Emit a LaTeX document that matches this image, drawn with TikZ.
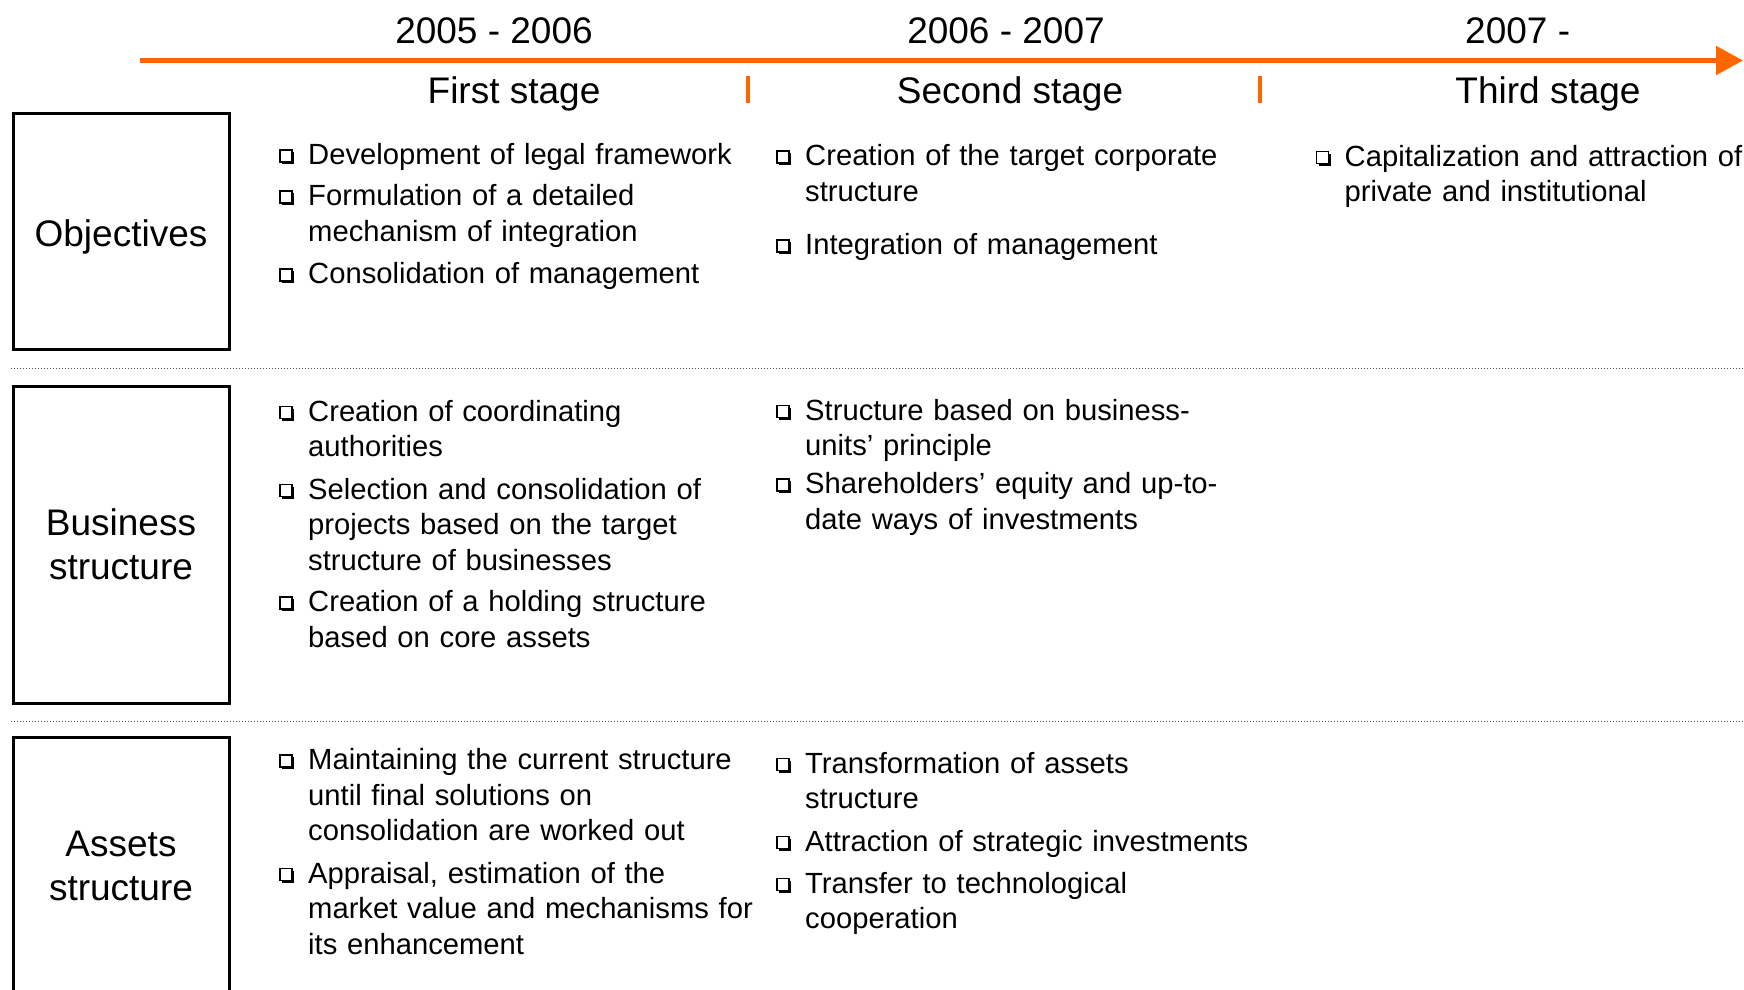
\documentclass[tikz,border=0pt]{standalone}
\usepackage{fontspec}
\setmainfont{Liberation Sans}
\usetikzlibrary{arrows.meta}
\usetikzlibrary{shadows}

\definecolor{stageorange}{HTML}{FF6600}

\newcommand{\headfont}{\fontsize{37}{44.5}\selectfont}
\newcommand{\itemfont}{\fontsize{29.2}{35.6}\selectfont}

\tikzset{
  catbox/.style={draw, line width=3pt, minimum width=216pt, align=center,
                 font=\headfont, inner sep=0pt},
  head/.style={anchor=base, font=\headfont, inner sep=0pt},
  item/.style={anchor=base west, text width=450pt, align=left,
               font=\itemfont, inner sep=0pt},
  bul/.style={draw, fill=white, line width=1.2pt, minimum size=12pt, inner sep=0pt,
              drop shadow={shadow xshift=2.2pt, shadow yshift=-2.2pt,
                           opacity=1, fill=black}},
  divider/.style={line width=1pt, black!70, dash pattern=on 1pt off 2pt}
}

% one bullet point: name, x, baseline y, text
\newcommand{\stageitem}[4]{%
  \node[item] (#1) at (#2,#3) {#4};
  \node[bul] (#1-b) at ([shift={(-22,-8.5)}]#1.base west) {};
}

\begin{document}
\begin{tikzpicture}[x=1pt, y=-1pt]
  \clip (0,0) rectangle (1744,989);

  % time line
  \coordinate (tstart) at (140,60.5);
  \coordinate (tend)   at (1743,60.5);
  \draw[line width=5pt, stageorange, -{Triangle[length=27pt, width=28pt]}]
       (tstart) -- (tend);
  \coordinate (tick1a) at (748,76);  \coordinate (tick1b) at (748,103);
  \coordinate (tick2a) at (1260,76); \coordinate (tick2b) at (1260,103);
  \draw[line width=4.5pt, stageorange] (tick1a) -- (tick1b);
  \draw[line width=4.5pt, stageorange] (tick2a) -- (tick2b);

  \node[head] (year1) at (494,43) {2005 - 2006};
  \node[head] (year2) at (1006,43) {2006 - 2007};
  \node[head, anchor=base west] (year3) at (1465,43) {2007 -};

  \node[head] (stage1) at (514,103) {First stage};
  \node[head] (stage2) at (1010,103) {Second stage};
  \node[head] (stage3) at (1548,103) {Third stage};

  % row titles
  \node[catbox, minimum height=236pt, text height=31pt, text depth=0pt]
       (obj) at (121,231) {Objectives};
  \node[catbox, minimum height=317pt] (bus) at (121,544.5) {Business\\structure};
  \node[catbox, minimum height=258pt] (ast) at (121,866) {Assets\\structure};

  % dividing lines
  \coordinate (div1a) at (11,368); \coordinate (div1b) at (1744,368);
  \coordinate (div2a) at (11,721); \coordinate (div2b) at (1744,721);
  \draw[divider] (div1a) -- (div1b);
  \draw[divider] (div2a) -- (div2b);

  % objectives
  \stageitem{o1a}{308}{164.5}{Development of legal framework}
  \stageitem{o1b}{308}{205.5}{Formulation of a detailed\\mechanism of integration}
  \stageitem{o1c}{308}{283.5}{Consolidation of management}
  \stageitem{o2a}{805}{165.5}{Creation of the target corporate\\structure}
  \stageitem{o2b}{805}{254.5}{Integration of management}
  \stageitem{o3a}{1344.5}{166}{Capitalization and attraction of\\private and institutional}

  % business structure
  \stageitem{b1a}{308}{421}{Creation of coordinating\\authorities}
  \stageitem{b1b}{308}{499}{Selection and consolidation of\\projects based on the target\\structure of businesses}
  \stageitem{b1c}{308}{611.5}{Creation of a holding structure\\based on core assets}
  \stageitem{b2a}{805}{420}{Structure based on business-\\units’ principle}
  \stageitem{b2b}{805}{493.5}{Shareholders’ equity and up-to-\\date ways of investments}

  % assets structure
  \stageitem{a1a}{308}{769.5}{Maintaining the current structure\\until final solutions on\\consolidation are worked out}
  \stageitem{a1b}{308}{883}{Appraisal, estimation of the\\market value and mechanisms for\\its enhancement}
  \stageitem{a2a}{805}{773}{Transformation of assets\\structure}
  \stageitem{a2b}{805}{851}{Attraction of strategic investments}
  \stageitem{a2c}{805}{893}{Transfer to technological\\cooperation}
\end{tikzpicture}
\end{document}
